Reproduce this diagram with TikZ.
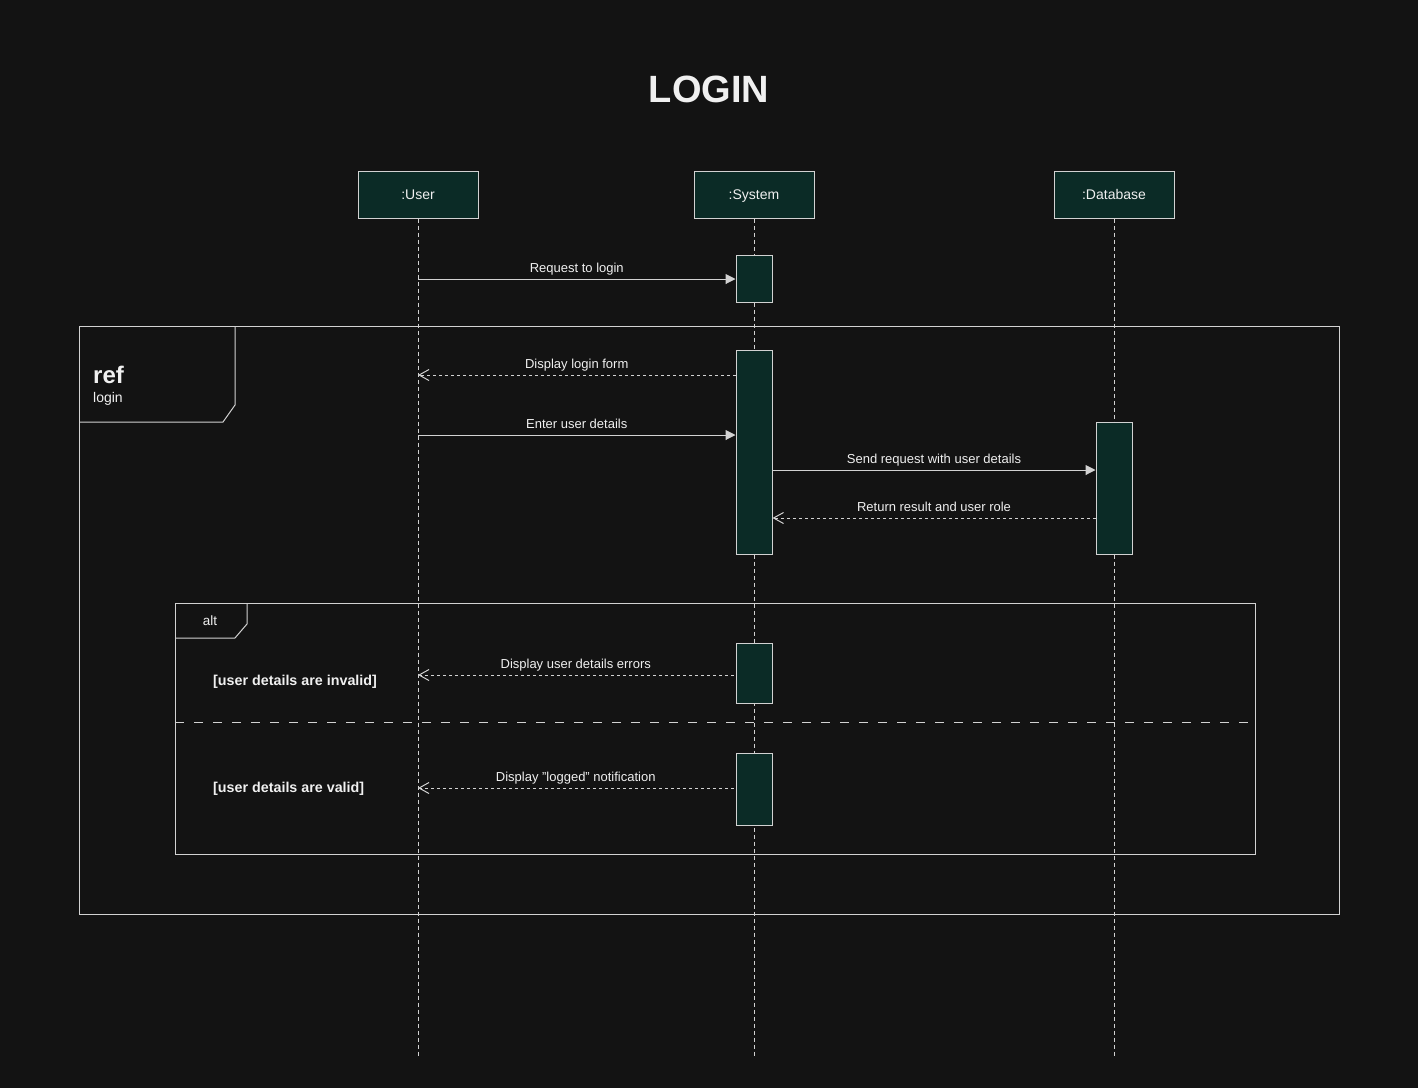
\documentclass[tikz,border=0pt]{standalone}
\usepackage{fontspec}
\setmainfont{Liberation Sans}
\usetikzlibrary{arrows.meta,positioning,backgrounds}
\definecolor{bgc}{HTML}{131313}
\definecolor{boxf}{HTML}{0B2B26}
\definecolor{edge}{HTML}{D2D2D2}
\definecolor{txt}{HTML}{F0F0F0}
\tikzset{
  head/.style={draw=edge,fill=boxf,text=txt,line width=1pt,minimum width=120pt,minimum height=47pt,inner sep=0pt,text height=10pt,text depth=0pt,font=\fontsize{14}{16}\selectfont},
  actbox/.style={draw=edge,fill=boxf,line width=1pt,minimum width=36pt,inner sep=0pt},
  life/.style={draw=edge,line width=0.9pt,dash pattern=on 4pt off 3pt},
  call/.style={draw=edge,line width=1pt,-{Triangle[length=10pt,width=10pt]}},
  reply/.style={draw=edge,line width=1pt,dash pattern=on 3pt off 3pt,-{Straight Barb[length=10pt,width=11pt]}},
  lbl/.style={text=txt,inner sep=1pt,text height=9.5pt,text depth=3pt,above=2.5pt,font=\fontsize{13}{15}\selectfont},
  frame/.style={draw=edge,line width=1pt},
  guard/.style={text=txt,anchor=west,inner sep=0pt,font=\bfseries\fontsize{14.3}{16}\selectfont},
}
\begin{document}
\begin{tikzpicture}[x=1pt,y=-1pt]
\fill[bgc] (0,0) rectangle (1418,1088);
\node[text=txt,font=\bfseries\fontsize{38}{40}\selectfont] (title) at (709,89) {LOGIN};
% lifelines
\foreach \n/\x/\t in {usr/418/{:User}, sys/754/{:System}, db/1114/{:Database}}{
  \node[head] (\n) at (\x,194.5) {\t};
  \draw[life] (\n.south) -- (\n.south |- 0,1057);
}
% ref frame
\draw[frame] (79,326) rectangle (1339,914);
\draw[frame] (79,422) -- (223,422) -- (235,405) -- (235,326);
\node[text=txt,anchor=west,inner sep=0pt,font=\bfseries\fontsize{24}{26}\selectfont] (reftag) at (93,375) {ref};
\node[text=txt,anchor=west,inner sep=0pt,font=\fontsize{14}{16}\selectfont] (refname) at (93,399) {login};
% alt frame
\draw[frame] (175,603) rectangle (1255,854);
\draw[frame] (175,638) -- (235,638) -- (247,624) -- (247,603);
\node[text=txt,inner sep=0pt,font=\fontsize{13.5}{15}\selectfont] (alttag) at (210,621) {alt};
\draw[frame,dash pattern=on 9pt off 10pt] (175,722) -- (1255,722);
\node[guard] (g1) at (213,682) {[user details are invalid]};
\node[guard] (g2) at (213,789) {[user details are valid]};
% activations
\node[actbox,minimum height=47pt] (act1) at (754,278.5) {};
\node[actbox,minimum height=204pt] (act2) at (754,452) {};
\node[actbox,minimum height=132pt] (act3) at (1114,488) {};
\node[actbox,minimum height=60pt] (act4) at (754,673) {};
\node[actbox,minimum height=72pt] (act5) at (754,789) {};
% messages
\draw[call] (usr |- 0,279) -- node[lbl] (m1) {Request to login} (act1.west |- 0,279);
\draw[reply] (act2.west |- 0,375) -- node[lbl] (m2) {Display login form} (usr |- 0,375);
\draw[call] (usr |- 0,435) -- node[lbl] (m3) {Enter user details} (act2.west |- 0,435);
\draw[call] (act2.east |- 0,470) -- node[lbl] (m4) {Send request with user details} (act3.west |- 0,470);
\draw[reply] (act3.west |- 0,518) -- node[lbl] (m5) {Return result and user role} (act2.east |- 0,518);
\draw[reply] ([xshift=-2pt]act4.west |- 0,675) -- node[lbl] (m6) {Display user details errors} (usr |- 0,675);
\draw[reply] ([xshift=-2pt]act5.west |- 0,788) -- node[lbl] (m7) {Display "logged" notification} (usr |- 0,788);
\end{tikzpicture}
\end{document}
